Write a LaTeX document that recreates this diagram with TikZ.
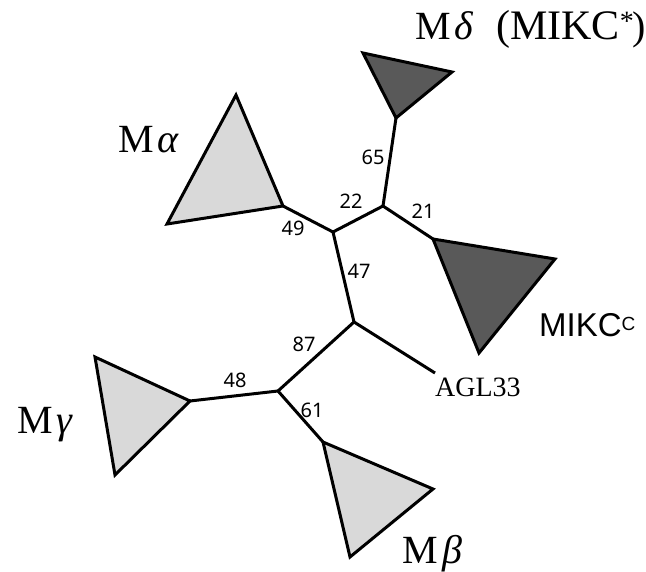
\documentclass[tikz,border=0pt]{standalone}
\usepackage{fontspec}
\setmainfont{Liberation Serif}
\newfontfamily\numfont{Noto Sans}
\newfontfamily\arialfont{Liberation Sans}
\definecolor{lightfill}{RGB}{217,217,217}
\definecolor{darkfill}{RGB}{89,89,89}
\tikzset{
  branch/.style={line width=3pt},
  lighttri/.style={draw=black, line width=3pt, fill=lightfill},
  darktri/.style={draw=black, line width=3pt, fill=darkfill},
  support/.style={font=\numfont\fontsize{20}{20}\selectfont, inner sep=0pt},
  clade/.style={font=\fontsize{40}{40}\selectfont, inner sep=0pt, anchor=base west},
}
\begin{document}
\begin{tikzpicture}[x=1pt,y=-1pt]
\useasboundingbox (0,0) rectangle (646,572);
% triangles
\coordinate (dA) at (363,53); \coordinate (dB) at (452,72); \coordinate (dtip) at (396,118);
\coordinate (aT) at (236,95); \coordinate (aL) at (167,224); \coordinate (aR) at (283,206);
\coordinate (cTL) at (433,239); \coordinate (cR) at (555,259); \coordinate (cB) at (479,353);
\coordinate (gT) at (95,357); \coordinate (gR) at (190,401); \coordinate (gB) at (115,475);
\coordinate (bT) at (323,442); \coordinate (bR) at (433,489); \coordinate (bB) at (350,557);
\filldraw[darktri] (dA) -- (dB) -- (dtip) -- cycle;
\filldraw[lighttri] (aT) -- (aR) -- (aL) -- cycle;
\filldraw[darktri] (cTL) -- (cR) -- (cB) -- cycle;
\filldraw[lighttri] (gT) -- (gR) -- (gB) -- cycle;
\filldraw[lighttri] (bT) -- (bR) -- (bB) -- cycle;
% internal nodes
\coordinate (n1) at (383,206);
\coordinate (n2) at (333,232);
\coordinate (n3) at (354,322);
\coordinate (n4) at (278,391);
\coordinate (agl) at (435,373);
% branches
\draw[branch] (dtip) -- (n1);
\draw[branch] (n1) -- (cTL);
\draw[branch] (n1) -- (n2);
\draw[branch] (n2) -- (aR);
\draw[branch] (n2) -- (n3);
\draw[branch] (n3) -- (agl);
\draw[branch] (n3) -- (n4);
\draw[branch] (n4) -- (gR);
\draw[branch] (n4) -- (bT);
% support values
\node[support] (s65) at (373,157) {65};
\node[support] (s22) at (351,201) {22};
\node[support] (s21) at (423,211) {21};
\node[support] (s49) at (293,228) {49};
\node[support] (s47) at (359,271) {47};
\node[support] (s87) at (304,344) {87};
\node[support] (s48) at (235,380) {48};
\node[support] (s61) at (312,410) {61};
% clade labels
\node[clade] (lalpha) at (118,153) {M\kern4pt\textit{α}};
\node[clade] (lgamma) at (17,433) {M\kern4pt\textit{γ}};
\node[clade] (lbeta) at (402,563) {M\kern5pt\textit{β}};
\node[clade] (ldelta) at (415,40) {M\kern4pt\textit{δ}};
\node[clade, font=\fontsize{42}{42}\selectfont] (lmikcs) at (496,40) {(MIKC\textsuperscript{\fontsize{28}{28}\selectfont *}};
\node[clade] (lclose) at (632,40) {)};
\node[inner sep=0pt, anchor=base west, font=\fontsize{28}{28}\selectfont] (lagl) at (435,396) {AGL33};
\node[inner sep=0pt, anchor=base west, font=\arialfont\fontsize{33}{33}\selectfont] (lmikc) at (539,337) {MIKC\raisebox{6pt}{\fontsize{19}{19}\selectfont C}};
\end{tikzpicture}
\end{document}
